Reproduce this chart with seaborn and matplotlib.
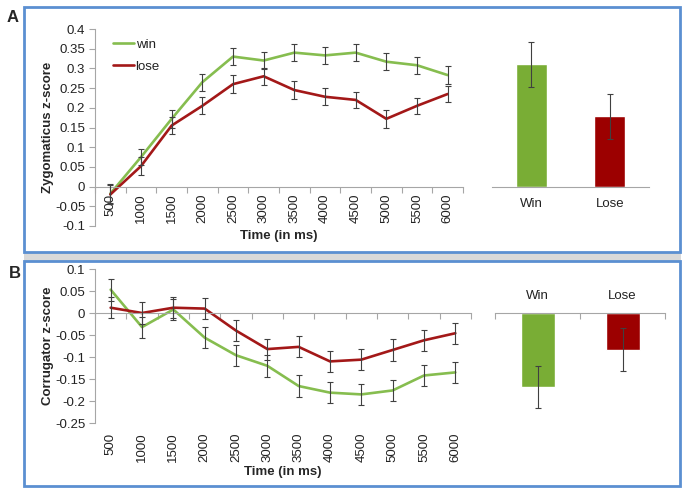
import numpy as np
import pandas as pd
import matplotlib
matplotlib.use('Agg')
import matplotlib.pyplot as plt
from matplotlib.patches import Rectangle
import seaborn as sns

# --- data ---
times = [500, 1000, 1500, 2000, 2500, 3000, 3500, 4000, 4500, 5000, 5500, 6000]

zyg_win = [-0.018, 0.075, 0.172, 0.265, 0.330, 0.320, 0.340, 0.333, 0.340, 0.317, 0.308, 0.283]
zyg_lose = [-0.020, 0.052, 0.155, 0.205, 0.260, 0.280, 0.245, 0.228, 0.220, 0.172, 0.205, 0.235]
zyg_win_err = [0.024, 0.020, 0.022, 0.022, 0.022, 0.022, 0.022, 0.021, 0.022, 0.021, 0.021, 0.022]
zyg_lose_err = [0.024, 0.022, 0.022, 0.022, 0.022, 0.021, 0.022, 0.021, 0.021, 0.022, 0.021, 0.021]

corr_win = [0.053, -0.032, 0.008, -0.056, -0.096, -0.120, -0.166, -0.181, -0.185, -0.176, -0.142, -0.135]
corr_lose = [0.012, 0.000, 0.012, 0.010, -0.040, -0.082, -0.077, -0.110, -0.106, -0.084, -0.062, -0.046]
corr_win_err = [0.025, 0.024, 0.024, 0.024, 0.024, 0.025, 0.024, 0.024, 0.024, 0.024, 0.023, 0.024]
corr_lose_err = [0.024, 0.024, 0.024, 0.024, 0.024, 0.024, 0.024, 0.024, 0.024, 0.024, 0.024, 0.024]

bar_labels = ['Win', 'Lose']
zyg_bar = [0.310, 0.178]
zyg_bar_err = [0.056, 0.056]
corr_bar = [-0.168, -0.083]
corr_bar_err = [0.047, 0.048]

GREEN_LINE = '#86bd4f'
RED_LINE = '#a31818'
GREEN_BAR = '#79ad35'
RED_BAR = '#9c0000'
SPINE = '#a6a6a6'
ERR = '#404040'
FRAME = '#5b8fd1'
TXT = '#222222'
TICK_FS = 9.5
LABEL_FS = 9.5

sns.set_style('white')
plt.rcParams['font.family'] = ['Liberation Sans', 'DejaVu Sans']
plt.rcParams['font.size'] = TICK_FS

W, H = 688, 495
fig = plt.figure(figsize=(W / 100, H / 100), dpi=100)


def px(x0, y0, x1, y1):
    """pixel box (top-left origin) -> figure fraction rect"""
    return [x0 / W, 1 - y1 / H, (x1 - x0) / W, (y1 - y0) / H]


# panel frames, kept behind the axes
band = px(24, 249, 681, 264)
fig.add_artist(Rectangle(band[:2], band[2], band[3], transform=fig.transFigure,
                         facecolor='#d9d9d9', edgecolor='none', zorder=-2))
for box in [(24, 7, 680, 252), (24, 261, 680, 486)]:
    r = px(*box)
    fig.add_artist(Rectangle(r[:2], r[2], r[3], transform=fig.transFigure,
                             facecolor='white', edgecolor=FRAME, linewidth=2, zorder=-1))

fig.text(7 / W, 1 - 18 / H, 'A', fontsize=12, fontweight='bold', va='center')
fig.text(9 / W, 1 - 273 / H, 'B', fontsize=12, fontweight='bold', va='center')

pos = np.arange(len(times))
bounds = np.arange(len(times) + 1) - 0.5


def line_panel(ax, win, lose, win_err, lose_err, ylim, step, ylabel, legend):
    df = pd.DataFrame({
        'pos': np.concatenate([pos, pos]),
        'score': win + lose,
        'outcome': ['win'] * len(pos) + ['lose'] * len(pos),
    })
    sns.lineplot(data=df, x='pos', y='score', hue='outcome',
                 palette={'win': GREEN_LINE, 'lose': RED_LINE},
                 linewidth=1.9, ax=ax, legend=legend, errorbar=None)
    ax.errorbar(pos, win, yerr=win_err, fmt='none', ecolor=ERR, elinewidth=0.8, capsize=2, capthick=0.8, zorder=4)
    ax.errorbar(pos, lose, yerr=lose_err, fmt='none', ecolor=ERR, elinewidth=0.8, capsize=2, capthick=0.8, zorder=4)
    ax.set_facecolor('none')
    ax.set_xlim(-0.5, len(times) - 0.5)
    ax.set_ylim(*ylim)
    yt = np.round(np.arange(ylim[0], ylim[1] + step / 2, step), 2) + 0.0
    ax.set_yticks(yt, [f'{v:g}' if abs(v) > 1e-9 else '0' for v in yt])
    for s in ['top', 'right']:
        ax.spines[s].set_visible(False)
    ax.spines['left'].set_color(SPINE)
    ax.spines['left'].set_linewidth(0.8)
    ax.spines['bottom'].set_color(SPINE)
    ax.spines['bottom'].set_linewidth(0.8)
    ax.spines['bottom'].set_position(('data', 0))
    ax.tick_params(axis='y', left=True, length=4, width=0.8, color=SPINE, pad=3,
                   labelsize=TICK_FS, labelcolor=TXT)
    ax.set_xticks(bounds, [''] * len(bounds))
    ax.tick_params(axis='x', which='major', bottom=True, length=4, width=0.8, color=SPINE)
    ax.set_ylabel(ylabel, fontsize=LABEL_FS, fontweight='bold', labelpad=0.5)
    ax.set_xlabel('')


# ---- panel A: zygomaticus ----
axA = fig.add_axes(px(95, 29, 463, 226))
line_panel(axA, zyg_win, zyg_lose, zyg_win_err, zyg_lose_err, (-0.1, 0.4), 0.05,
           'Zygomaticus z-score', True)
axA.set_xticks(pos, [str(t) for t in times], minor=True)
axA.tick_params(axis='x', which='minor', length=0, rotation=90, pad=5,
                labelsize=TICK_FS, labelcolor=TXT)
axA.text(0.5, -0.05, 'Time (in ms)', transform=axA.transAxes, ha='center', va='center',
         fontsize=LABEL_FS, fontweight='bold')
leg = axA.legend(loc='upper left', bbox_to_anchor=(0.035, 0.978), frameon=False, fontsize=TICK_FS,
                 handlelength=1.6, handletextpad=0.1, labelspacing=0.75, borderaxespad=0)
for t in leg.get_texts():
    t.set_color(TXT)

# ---- panel B: corrugator ----
axB = fig.add_axes(px(95, 269, 471, 423))
line_panel(axB, corr_win, corr_lose, corr_win_err, corr_lose_err, (-0.25, 0.1), 0.05,
           'Corrugator z-score', False)
secB = axB.secondary_xaxis('bottom')
secB.set_xticks(pos, [str(t) for t in times])
secB.tick_params(length=0, rotation=90, pad=7, labelsize=TICK_FS, labelcolor=TXT)
secB.spines['bottom'].set_visible(False)
axB.text(0.5, -0.32, 'Time (in ms)', transform=axB.transAxes, ha='center', va='center',
         fontsize=LABEL_FS, fontweight='bold')


def bar_panel(ax, vals, errs, ylim, top_labels):
    sns.barplot(x=bar_labels, y=vals, hue=bar_labels, palette=[GREEN_BAR, RED_BAR],
                width=0.4, ax=ax, legend=False, errorbar=None, saturation=1)
    ax.errorbar(np.arange(len(vals)), vals, yerr=errs, fmt='none', ecolor=ERR,
                elinewidth=0.8, capsize=2, capthick=0.8, zorder=4)
    ax.set_facecolor('none')
    ax.set_xlim(-0.5, len(vals) - 0.5)
    ax.set_ylim(*ylim)
    ax.set_yticks([])
    ax.set_ylabel('')
    for s in ['left', 'right', 'top', 'bottom']:
        ax.spines[s].set_visible(False)
    key = 'top' if top_labels else 'bottom'
    ax.spines[key].set_visible(True)
    ax.spines[key].set_position(('data', 0))
    ax.spines[key].set_color(SPINE)
    ax.spines[key].set_linewidth(0.8)
    if top_labels:
        ax.xaxis.tick_top()
    ax.set_xticks([-0.5, 0.5, 1.5], ['', '', ''])
    ax.tick_params(axis='x', which='major', length=4, width=0.8, color=SPINE,
                   direction='in' if top_labels else 'out')
    ax.set_xticks(np.arange(len(vals)), bar_labels, minor=True)
    ax.tick_params(axis='x', which='minor', length=0, pad=8,
                   labelsize=TICK_FS, labelcolor=TXT,
                   top=top_labels, bottom=not top_labels,
                   labeltop=top_labels, labelbottom=not top_labels)


axA2 = fig.add_axes(px(492, 29, 649, 226))
bar_panel(axA2, zyg_bar, zyg_bar_err, (-0.1, 0.4), False)

axB2 = fig.add_axes(px(495, 269, 665, 423))
bar_panel(axB2, corr_bar, corr_bar_err, (-0.25, 0.1), True)

fig.savefig('out.png', dpi=100)
plt.close(fig)
